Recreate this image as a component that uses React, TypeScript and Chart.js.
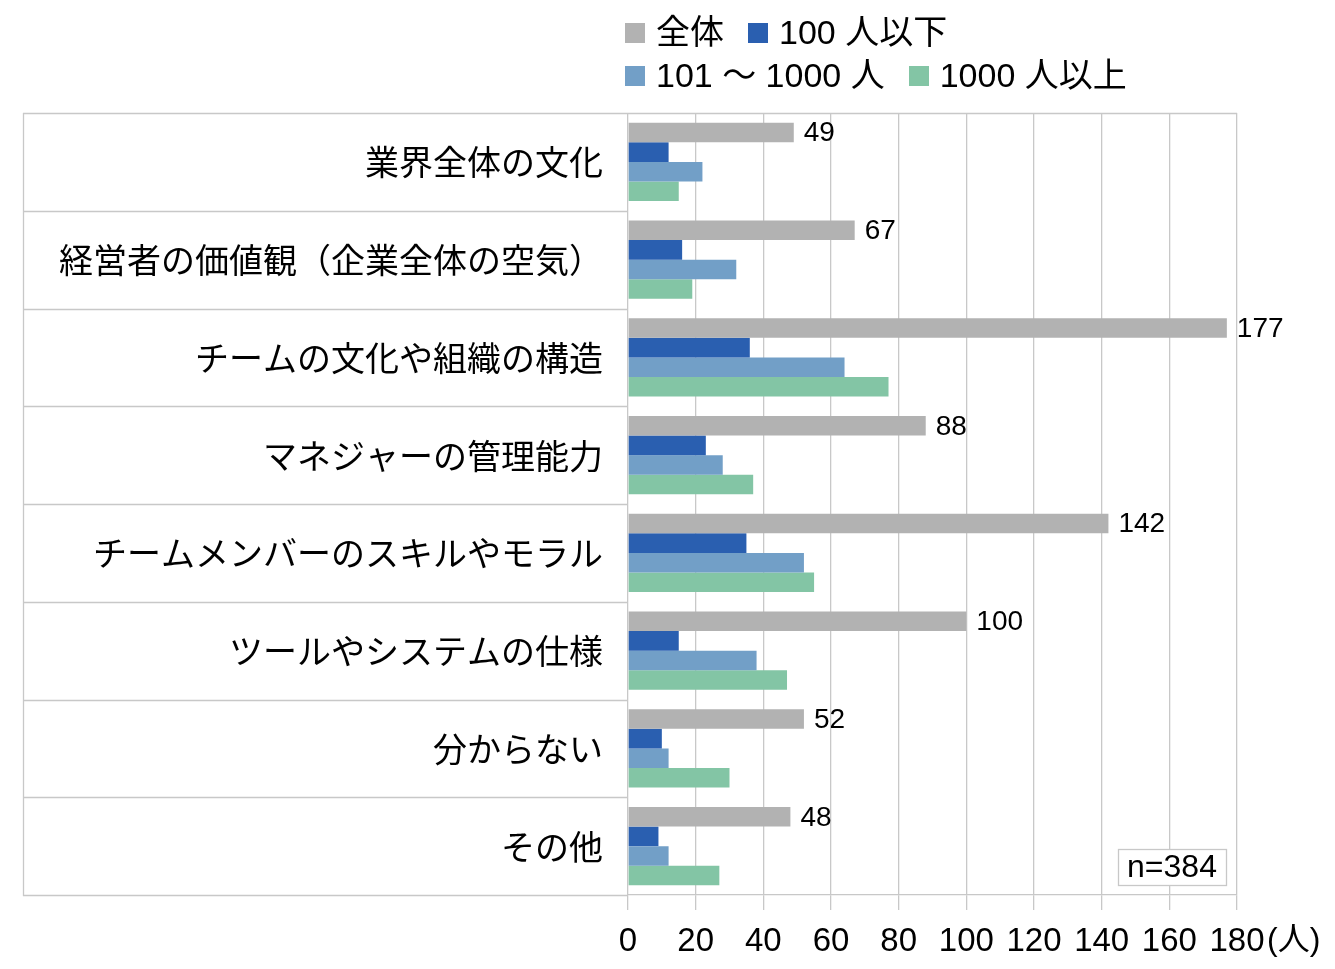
import { useEffect, useRef } from "react"
import { Chart, registerables, type Plugin } from "chart.js"

Chart.register(...registerables)

const categories = [
  "業界全体の文化",
  "経営者の価値観（企業全体の空気）",
  "チームの文化や組織の構造",
  "マネジャーの管理能力",
  "チームメンバーのスキルやモラル",
  "ツールやシステムの仕様",
  "分からない",
  "その他",
]

const seriesNames = ["全体", "100 人以下", "101 〜 1000 人", "1000 人以上"]
const totalAll = [49, 67, 177, 88, 142, 100, 52, 48]
const upTo100 = [12, 16, 36, 23, 35, 15, 10, 9]
const from101To1000 = [22, 32, 64, 28, 52, 38, 12, 12]
const over1000 = [15, 19, 77, 37, 55, 47, 30, 27]
const colors = ["#b2b2b2", "#2a5fb0", "#729fc7", "#83c5a5"]

const xMin = 0
const xMax = 180
const xStep = 20
const unitLabel = "(人)"
const sampleNote = "n=384"

const FONT = '"Liberation Sans", "Noto Sans CJK JP", sans-serif'
const GRID = "#c8c8c8"

// table-like lines around category labels, value labels, n box, unit label
const decorations: Plugin<"bar"> = {
  id: "decorations",
  afterDraw(chart) {
    const { ctx, chartArea } = chart
    const y = chart.scales.y
    const x = chart.scales.x
    const n = categories.length
    const band = (y.getPixelForValue(n - 1) - y.getPixelForValue(0)) / (n - 1)
    const boxLeft = 23

    ctx.save()
    ctx.strokeStyle = GRID
    ctx.lineWidth = 1.3
    for (let i = 0; i <= n; i++) {
      const py = Math.round(y.getPixelForValue(i) - band / 2) + 0.5
      ctx.beginPath()
      ctx.moveTo(boxLeft, py)
      ctx.lineTo(i === 0 ? chartArea.right : chartArea.left, py)
      ctx.stroke()
    }
    ctx.beginPath()
    ctx.moveTo(boxLeft + 0.5, chartArea.top)
    ctx.lineTo(boxLeft + 0.5, chartArea.bottom + 1)
    ctx.stroke()

    // values on the 全体 bars
    const meta = chart.getDatasetMeta(0)
    ctx.fillStyle = "#000"
    ctx.font = `28px ${FONT}`
    ctx.textAlign = "left"
    ctx.textBaseline = "middle"
    meta.data.forEach((el, i) => {
      ctx.fillText(String(totalAll[i]), el.x + 10, el.y + 1)
    })

    // unit label after the last tick
    ctx.font = `32px ${FONT}`
    ctx.fillText(unitLabel, x.getPixelForValue(xMax) + 30, chartArea.bottom + 46)

    // n= box
    const bw = 108
    const bh = 36
    const bx = chartArea.right - 11 - bw
    const by = chartArea.bottom - 10 - bh
    ctx.fillStyle = "#fff"
    ctx.fillRect(bx, by, bw, bh)
    ctx.strokeStyle = GRID
    ctx.lineWidth = 1.3
    ctx.strokeRect(bx + 0.5, by + 0.5, bw, bh)
    ctx.fillStyle = "#000"
    ctx.font = `32px ${FONT}`
    ctx.textAlign = "center"
    ctx.fillText(sampleNote, bx + bw / 2, by + bh / 2 + 1)
    ctx.restore()
  },
}

function Legend() {
  const rows = [
    [0, 1],
    [2, 3],
  ]
  return (
    <div style={{ position: "absolute", left: 625, top: 11, fontFamily: FONT, fontSize: 34, color: "#000" }}>
      {rows.map((row, r) => (
        <div key={r} style={{ display: "flex", alignItems: "center", height: 43 }}>
          {row.map((idx) => (
            <div key={idx} style={{ display: "flex", alignItems: "center", marginRight: 24 }}>
              <span style={{ width: 20, height: 20, background: colors[idx], marginRight: 11 }} />
              <span style={{ lineHeight: "43px" }}>{seriesNames[idx]}</span>
            </div>
          ))}
        </div>
      ))}
    </div>
  )
}

export default function App() {
  const canvasRef = useRef<HTMLCanvasElement>(null)
  const chartInstance = useRef<Chart<"bar"> | null>(null)

  useEffect(() => {
    if (!canvasRef.current) return
    if (chartInstance.current) chartInstance.current.destroy()

    const values = [totalAll, upTo100, from101To1000, over1000]

    chartInstance.current = new Chart(canvasRef.current, {
      type: "bar",
      data: {
        labels: categories,
        datasets: values.map((data, i) => ({
          label: seriesNames[i],
          data,
          backgroundColor: colors[i],
          borderWidth: 0,
          categoryPercentage: 0.8,
          barPercentage: 1.0,
        })),
      },
      options: {
        indexAxis: "y",
        animation: false,
        responsive: true,
        maintainAspectRatio: false,
        layout: { padding: { top: 113, right: 98, left: 0, bottom: 0 } },
        plugins: {
          legend: { display: false },
          tooltip: { enabled: false },
        },
        scales: {
          x: {
            min: xMin,
            max: xMax,
            ticks: {
              stepSize: xStep,
              color: "#000",
              font: { family: FONT, size: 33 },
              padding: 12,
              maxRotation: 0,
            },
            grid: { color: GRID, lineWidth: 1.3, tickLength: 15, tickColor: GRID },
            border: { color: GRID, width: 1.3 },
            afterFit: (scale) => {
              scale.height = 74
            },
          },
          y: {
            ticks: {
              color: "#000",
              font: { family: FONT, size: 34 },
              padding: 25,
              labelOffset: 4,
            },
            grid: { display: false, drawTicks: false },
            border: { display: false },
            afterFit: (scale) => {
              scale.width = 628
            },
          },
        },
      },
      plugins: [decorations],
    })

    return () => {
      if (chartInstance.current) {
        chartInstance.current.destroy()
        chartInstance.current = null
      }
    }
  }, [])

  return (
    <div style={{ position: "absolute", left: 0, top: 0, width: 1335, height: 969, background: "#fff" }}>
      <canvas ref={canvasRef} />
      <Legend />
    </div>
  )
}
